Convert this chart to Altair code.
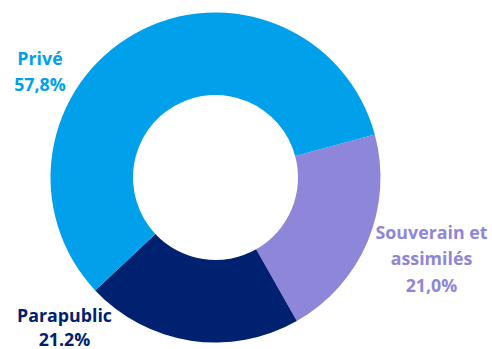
import altair as alt
import pandas as pd
import math

categories = ["Souverain et assimilés", "Parapublic", "Privé"]
values = [21.0, 21.2, 57.8]
colors = ["#8E86D8", "#00216F", "#00A0EA"]
order = [0, 1, 2]

df = pd.DataFrame({"cat": categories, "val": values, "ord": order})

start = 1.307
arc = alt.Chart(df).mark_arc(innerRadius=82.5, outerRadius=165, x=215.5, y=177.5).encode(
    theta=alt.Theta("val:Q", stack=True, scale=alt.Scale(range=[start, start + 2 * math.pi])),
    order=alt.Order("ord:Q"),
    color=alt.Color("cat:N", scale=alt.Scale(domain=categories, range=colors), legend=None),
)

font = "Open Sans"

def label(text, x, y, color, lh=26.5):
    return alt.Chart(pd.DataFrame({"t": [text]})).mark_text(
        font=font, fontSize=17.8, fontWeight="bold", color=color, lineBreak="\n",
        align="center", baseline="alphabetic", lineHeight=lh,
    ).encode(text="t:N", x=alt.value(x), y=alt.value(y))

chart = alt.layer(
    arc,
    label("Privé\n57,8%", 40, 65, colors[2], 26),
    label("Souverain et\nassimilés\n21,0%", 431.5, 238.5, colors[0], 26.7),
    label("Parapublic\n21.2%", 64.5, 321.5, colors[1], 24.5),
).properties(width=492, height=349, padding=0, autosize="none").configure_view(stroke=None)

chart.save("out.html", embed_options={"renderer": "svg", "actions": False})
